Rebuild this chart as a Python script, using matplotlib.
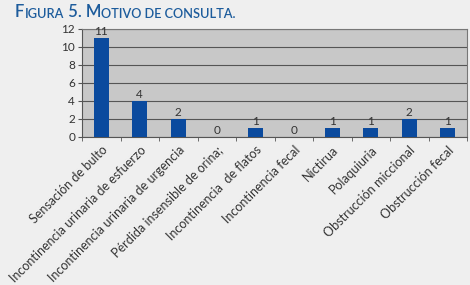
import matplotlib.pyplot as plt
import numpy as np

plt.rcParams['font.family'] = ['Lato', 'DejaVu Sans']

categories = ["Sensación de bulto", "Incontinencia urinaria de esfuerzo",
              "Incontinencia urinaria de urgencia", "Pérdida insensible de orina;",
              "Incontinencia  de flatos", "Incontinencia fecal", "Nictirua",
              "Polaquiuria", "Obstrucción miccional", "Obstrucción fecal"]
values = [11, 4, 2, 0, 1, 0, 1, 1, 2, 1]
yticks = [0, 2, 4, 6, 8, 10, 12]

bg = "#efefef"
bar_color = "#0a4a9e"
title_color = "#1d5c9c"

fig = plt.figure(figsize=(4.7, 2.85), dpi=100, facecolor=bg)
ax = fig.add_axes([82 / 470, 1 - 137 / 285, 385 / 470, 108 / 285])
ax.set_facecolor("#c8c8c8")

x = np.arange(len(categories))
ax.bar(x, values, width=0.4, color=bar_color, zorder=3)
for xi, v in zip(x, values):
    ax.text(xi, v + 0.1, str(v), ha="center", va="bottom", fontsize=8.5, color="#333333", zorder=4)

ax.set_xlim(-0.5, len(categories) - 0.5)
ax.set_ylim(0, 12)
ax.set_yticks(yticks)
ax.yaxis.grid(True, color="#555555", linewidth=0.8, zorder=1)
ax.set_axisbelow(True)
ax.tick_params(axis="y", labelsize=8.5, length=3, color="#555555", labelcolor="#333333", pad=2)

ax.set_xticks(x)
ax.set_xticklabels(categories, rotation=45, ha="right", rotation_mode="anchor",
                   fontsize=9, color="#333333")
ax.set_xticks(np.arange(-0.5, len(categories)), minor=True)
ax.tick_params(axis="x", which="major", length=0, pad=5)
ax.tick_params(axis="x", which="minor", length=3, color="#555555")

for side in ["top", "right"]:
    ax.spines[side].set_color("#777777")
for side in ["left", "bottom"]:
    ax.spines[side].set_color("#555555")

# small caps title, each piece placed after the previous one
pieces = [("F", 12), ("IGURA", 9.2), (" 5. M", 12), ("OTIVO DE CONSULTA.", 9.2)]
prev = fig.text(15 / 470, 1 - 17 / 285, pieces[0][0], fontsize=pieces[0][1],
                color=title_color, va="baseline", ha="left", fontweight="semibold")
for txt, size in pieces[1:]:
    prev = ax.annotate(txt, xy=(1, 0), xycoords=prev, fontsize=size, color=title_color,
                       va="bottom", ha="left", annotation_clip=False, fontweight="semibold")

fig.savefig("out.png", dpi=100, facecolor=bg)
